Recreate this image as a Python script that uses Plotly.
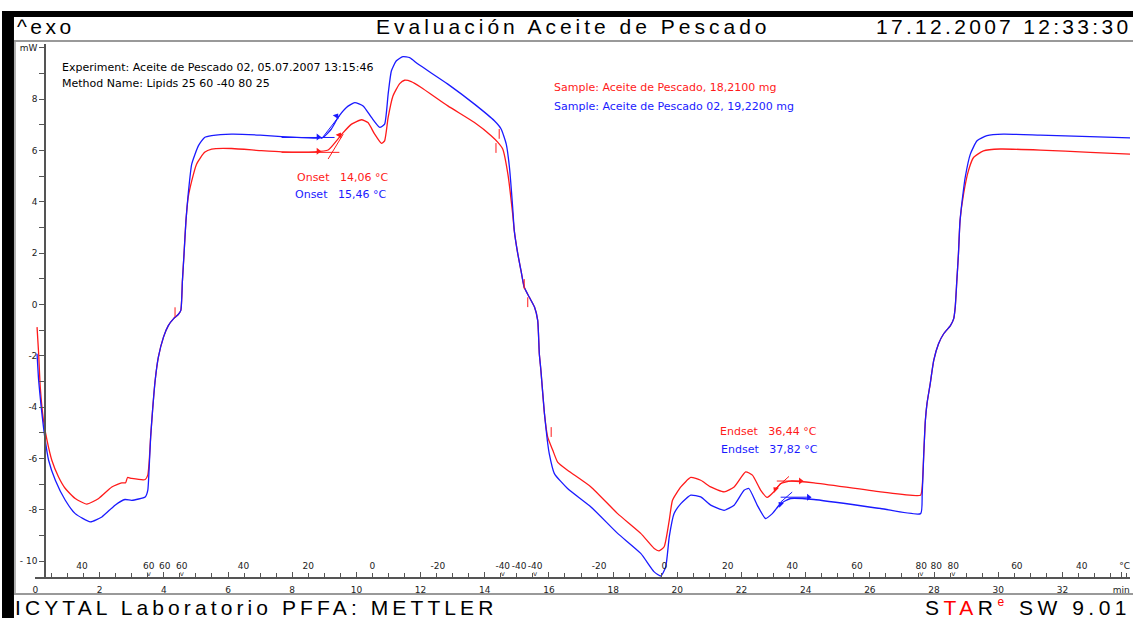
import plotly.graph_objects as go

W, H = 1133, 618

# ---------------- data (time in min, heat flow in mW) ----------------
red_t = [0.05, 0.1, 0.15, 0.25, 0.36, 0.51, 0.72, 0.93, 1.24, 1.6, 1.97, 2.38, 2.69, 2.81, 2.87, 3.0, 3.42, 3.5,
         3.54, 3.59, 3.65, 3.73, 3.83, 3.99, 4.14, 4.3, 4.45, 4.53, 4.58, 4.63, 4.69, 4.76, 4.87, 5.02, 5.27, 5.49,
         6.11, 7.0, 7.67, 8.7, 9.12, 9.38, 9.59, 9.85, 10.16, 10.36, 10.57, 10.78, 10.88, 10.99, 11.14, 11.35, 11.5,
         11.71, 12.02, 12.85, 13.68, 14.2, 14.41, 14.56, 14.72, 14.87, 14.92, 15.03, 15.13, 15.23, 15.39, 15.55,
         15.65, 15.7, 15.75, 15.86, 15.96, 16.12, 16.27, 16.58, 17.31, 18.14, 18.86, 19.28, 19.43, 19.59, 19.75,
         19.85, 20.11, 20.42, 20.73, 21.04, 21.46, 21.77, 22.13, 22.34, 22.6, 22.8, 23.01, 23.22, 23.53, 24.26,
         26.33, 27.58, 27.63, 27.68, 27.73, 27.78, 27.88, 27.99, 28.14, 28.3, 28.51, 28.61, 28.66, 28.71, 28.76,
         28.81, 28.92, 29.07, 29.23, 29.54, 30.06, 31.31, 32.86, 34.15]
red_v = [-0.88, -1.92, -3.22, -4.51, -5.29, -6.07, -6.72, -7.17, -7.56, -7.78, -7.56, -7.11, -6.95, -6.95, -6.74,
         -6.78, -6.82, -6.65, -6.2, -5.16, -4.12, -2.96, -2.05, -1.27, -0.82, -0.56, -0.39, -0.23, 0.93, 1.97, 3.27,
         4.18, 4.82, 5.47, 5.93, 6.06, 6.08, 6.0, 5.95, 5.95, 6.02, 6.38, 6.7, 7.03, 7.2, 7.09, 6.64, 6.28, 6.38,
         7.29, 8.13, 8.61, 8.74, 8.69, 8.46, 7.74, 7.09, 6.58, 6.32, 6.06, 5.09, 3.53, 2.88, 1.97, 1.32, 0.67, 0.28,
         -0.1, -0.62, -1.91, -2.57, -4.25, -5.16, -5.68, -6.14, -6.46, -7.11, -8.15, -8.92, -9.51, -9.6, -9.44,
         -8.4, -7.63, -7.11, -6.74, -6.85, -7.11, -7.3, -7.11, -6.52, -6.65, -7.24, -7.52, -7.3, -6.98, -6.88,
         -6.95, -7.3, -7.43, -7.11, -5.81, -4.51, -3.86, -3.09, -2.18, -1.53, -1.14, -0.82, -0.56, -0.1, 0.93,
         1.97, 3.27, 4.31, 5.21, 5.73, 5.99, 6.06, 6.02, 5.93, 5.86]

blue_t = [0.05, 0.1, 0.18, 0.29, 0.41, 0.62, 0.93, 1.24, 1.71, 2.07, 2.48, 2.79, 3.0, 3.42, 3.5, 3.54, 3.59, 3.65,
          3.73, 3.83, 3.99, 4.14, 4.3, 4.45, 4.53, 4.58, 4.63, 4.69, 4.76, 4.87, 5.08, 5.27, 5.49, 6.11, 7.0, 7.67,
          8.7, 8.96, 9.22, 9.43, 9.69, 9.95, 10.21, 10.47, 10.73, 10.88, 10.99, 11.09, 11.24, 11.45, 11.66, 11.92,
          12.85, 13.68, 14.3, 14.51, 14.67, 14.77, 14.87, 14.92, 15.03, 15.13, 15.23, 15.39, 15.55, 15.65, 15.7,
          15.75, 15.86, 15.95, 16.01, 16.17, 16.58, 17.31, 18.14, 18.86, 19.28, 19.49, 19.64, 19.75, 19.9, 20.11,
          20.42, 20.73, 21.04, 21.46, 21.77, 22.08, 22.23, 22.49, 22.75, 22.96, 23.22, 23.53, 24.26, 26.33, 27.58,
          27.63, 27.68, 27.73, 27.78, 27.88, 27.99, 28.14, 28.3, 28.51, 28.61, 28.66, 28.71, 28.76, 28.81, 28.92,
          28.97, 29.13, 29.34, 29.65, 30.16, 31.31, 32.86, 34.15]
blue_v = [-1.92, -2.96, -4.0, -5.16, -6.07, -6.85, -7.63, -8.15, -8.47, -8.28, -7.82, -7.6, -7.63, -7.5, -7.24,
          -6.46, -5.16, -4.12, -2.96, -2.05, -1.27, -0.82, -0.56, -0.39, -0.23, 0.93, 1.97, 3.27, 4.3, 5.47, 6.19,
          6.51, 6.58, 6.64, 6.6, 6.54, 6.49, 6.51, 6.84, 7.29, 7.68, 7.87, 7.74, 7.29, 6.9, 7.03, 8.2, 9.1, 9.49,
          9.66, 9.62, 9.37, 8.59, 7.81, 7.16, 6.84, 6.25, 5.34, 3.79, 2.88, 1.97, 1.32, 0.67, 0.28, -0.1, -0.62,
          -1.91, -2.57, -4.25, -5.3, -5.81, -6.59, -7.17, -7.89, -8.92, -9.7, -10.42, -10.58, -10.22, -9.05, -8.15,
          -7.76, -7.43, -7.5, -7.82, -8.02, -7.82, -7.24, -7.17, -7.82, -8.34, -8.15, -7.76, -7.56, -7.6, -7.95,
          -8.15, -7.4, -5.81, -4.51, -3.86, -3.09, -2.18, -1.53, -1.14, -0.82, -0.56, -0.1, 0.93, 1.97, 3.27, 4.5,
          4.95, 5.86, 6.38, 6.58, 6.64, 6.6, 6.54, 6.49]

# onset / endset construction lines
onset_red_base_t = [7.67, 9.47];  onset_red_base_v = [5.93, 5.93]
onset_red_tan_t = [9.12, 9.59];   onset_red_tan_v = [5.67, 6.64]
onset_blue_base_t = [7.67, 9.32]; onset_blue_base_v = [6.51, 6.51]
onset_blue_tan_t = [8.91, 9.47];  onset_blue_tan_v = [6.45, 7.35]
endset_red_base_t = [23.1, 23.84];  endset_red_base_v = [-6.88, -6.88]
endset_red_tan_t = [23.06, 23.48];  endset_red_tan_v = [-7.17, -6.7]
endset_blue_base_t = [23.22, 24.09]; endset_blue_base_v = [-7.51, -7.51]
endset_blue_tan_t = [23.22, 23.58];  endset_blue_tan_v = [-7.7, -7.31]

arrow_red_t = [8.81, 9.47, 23.06, 23.84]
arrow_red_v = [5.97, 6.6, -7.2, -6.88]
arrow_red_ang = [0, -60, 225, 0]
arrow_blue_t = [8.81, 9.38, 23.22, 24.09]
arrow_blue_v = [6.53, 7.35, -7.78, -7.51]
arrow_blue_ang = [0, -55, 225, 0]

limit_red_t = [4.35, 14.35, 14.45, 15.23, 15.34, 16.07]
limit_red_v = [-0.3, 6.1, 6.65, 0.8, 0.09, -4.97]

# axes
time_ticks = [0, 2, 4, 6, 8, 10, 12, 14, 16, 18, 20, 22, 24, 26, 28, 30, 32]
time_labels = ["0", "2", "4", "6", "8", "10", "12", "14", "16", "18", "20", "22", "24", "26", "28", "30", "32"]
temp_t = [1.45, 3.53, 4.03, 4.56, 6.48, 8.5, 10.5, 12.54, 14.56, 15.07, 15.57, 17.56, 19.6, 21.57, 23.58,
          25.6, 27.6, 28.07, 28.6, 30.58, 32.6]
temp_labels = ["40", "60", "60", "60", "40", "20", "0", "-20", "-40", "-40", "-40", "-20", "0", "20", "40",
               "60", "80", "80", "80", "60", "40"]
hold_t = [3.53, 4.56, 14.56, 15.57, 27.6, 28.6]
mw_ticks = [-10, -8, -6, -4, -2, 0, 2, 4, 6, 8, 10]
mw_labels = ["- 10", "-8", "-6", "-4", "-2", "0", "2", "4", "6", "8", "mW"]

# ---------------- layout helpers ----------------
def px(x):
    return x / W

def py(y):
    return 1 - y / H

# pixel calibration of the plot
T0_PX, PX_PER_MIN = 33.5, 32.15
V0_PX, PX_PER_MW = 304.0, 25.7
X_LEFT, X_RIGHT = 33, 1130
Y_TOP, Y_BOT = 43, 577
xr = [(X_LEFT - T0_PX) / PX_PER_MIN, (X_RIGHT - T0_PX) / PX_PER_MIN]
yr = [(V0_PX - Y_BOT) / PX_PER_MW, (V0_PX - Y_TOP) / PX_PER_MW]

RED = "#ff1a1a"
BLUE = "#1a1aff"
AX = "#555555"
TICKFONT = dict(family="DejaVu Sans", size=9, color="#222222")

fig = go.Figure()

fig.add_trace(go.Scatter(x=red_t, y=red_v, mode="lines",
                         line=dict(color=RED, width=1.3, shape="spline", smoothing=0.5), hoverinfo="skip"))
fig.add_trace(go.Scatter(x=blue_t, y=blue_v, mode="lines",
                         line=dict(color=BLUE, width=1.3, shape="spline", smoothing=0.5), hoverinfo="skip"))

for tt, vv, c in [(onset_red_base_t, onset_red_base_v, RED), (onset_red_tan_t, onset_red_tan_v, RED),
                  (onset_blue_base_t, onset_blue_base_v, BLUE), (onset_blue_tan_t, onset_blue_tan_v, BLUE),
                  (endset_red_base_t, endset_red_base_v, RED), (endset_red_tan_t, endset_red_tan_v, RED),
                  (endset_blue_base_t, endset_blue_base_v, BLUE), (endset_blue_tan_t, endset_blue_tan_v, BLUE)]:
    fig.add_trace(go.Scatter(x=tt, y=vv, mode="lines", line=dict(color=c, width=1), hoverinfo="skip"))

fig.add_trace(go.Scatter(x=arrow_red_t, y=arrow_red_v, mode="markers",
                         marker=dict(symbol="triangle-right", size=6, color=RED, angle=arrow_red_ang)))
fig.add_trace(go.Scatter(x=arrow_blue_t, y=arrow_blue_v, mode="markers",
                         marker=dict(symbol="triangle-right", size=6, color=BLUE, angle=arrow_blue_ang)))
fig.add_trace(go.Scatter(x=limit_red_t, y=limit_red_v, mode="markers",
                         marker=dict(symbol="line-ns-open", size=7, color=RED, line=dict(width=1, color=RED))))

# hold markers on temperature axis
fig.add_trace(go.Scatter(x=hold_t, y=[yr[0] + 0.1] * len(hold_t), mode="text", text=["v"] * len(hold_t),
                         textfont=dict(family="DejaVu Sans", size=7, color="#333333"), xaxis="x2", yaxis="y",
                         hoverinfo="skip"))

fig.update_layout(
    width=W, height=H, autosize=False, showlegend=False,
    margin=dict(l=0, r=0, t=0, b=0, pad=0),
    paper_bgcolor="white", plot_bgcolor="rgba(0,0,0,0)",
    xaxis=dict(domain=[px(X_LEFT), px(X_RIGHT)], range=xr, anchor="y", showgrid=False, zeroline=False,
               showline=True, linecolor=AX, linewidth=1.5, ticks="inside", ticklen=5, tickcolor=AX,
               tickmode="array", tickvals=time_ticks + [33.83], ticktext=time_labels + ["min"],
               tickfont=TICKFONT, ticklabelstandoff=3, tickangle=0,
               minor=dict(tick0=0, dtick=0.5, ticks="inside", ticklen=4, tickcolor=AX)),
    xaxis2=dict(overlaying="x", matches="x", range=xr, anchor="free", position=py(Y_BOT), side="top",
                showgrid=False, zeroline=False, showline=False, ticks="", tickangle=0,
                tickmode="array", tickvals=temp_t + [33.94], ticktext=temp_labels + ["°C"],
                tickfont=TICKFONT, ticklabelstandoff=6),
    yaxis=dict(domain=[py(Y_BOT), py(Y_TOP)], range=yr, anchor="free", position=px(43), showgrid=False,
               zeroline=False, showline=True, linecolor=AX, linewidth=1.5, ticks="outside", ticklen=5,
               tickcolor=AX, tickmode="array", tickvals=mw_ticks, ticktext=mw_labels, tickfont=TICKFONT,
               minor=dict(tick0=1, dtick=2, ticks="outside", ticklen=5, tickcolor=AX)),
)

# frame: black bars and grey rules
shapes = [
    dict(type="rect", xref="paper", yref="paper", x0=px(0), x1=px(12), y0=py(618), y1=py(10),
         fillcolor="black", line=dict(width=0)),
    dict(type="rect", xref="paper", yref="paper", x0=px(0), x1=px(1133), y0=py(16), y1=py(10),
         fillcolor="black", line=dict(width=0)),
    dict(type="line", xref="paper", yref="paper", x0=px(12), x1=px(1133), y0=py(40), y1=py(40),
         line=dict(color="#999999", width=2)),
    dict(type="line", xref="paper", yref="paper", x0=px(13), x1=px(13), y0=py(40), y1=py(594),
         line=dict(color="#999999", width=1.5)),
    dict(type="line", xref="paper", yref="paper", x0=px(12), x1=px(1133), y0=py(594), y1=py(594),
         line=dict(color="#999999", width=2)),
]
fig.update_layout(shapes=shapes)

BIG = dict(family="Liberation Sans, Arial", size=21, color="black")
SMALL = "DejaVu Sans"

def sp(text, ls):
    return '<span style="letter-spacing:%.1fpx">%s</span>' % (ls, text)

def ann(text, x, y, xanchor="left", font=None):
    return dict(text=text, x=px(x), y=py(y), xref="paper", yref="paper", xanchor=xanchor, yanchor="middle",
                showarrow=False, font=font, align="left")

annotations = [
    ann(sp("^exo", 3.5), 13, 26, "left", BIG),
    ann(sp("Evaluación Aceite de Pescado", 4.0), 573, 26, "center", BIG),
    ann(sp("17.12.2007 12:33:30", 3.3), 1133, 26, "right", BIG),
    ann(sp("ICYTAL Laboratorio PFFA: METTLER", 4.1), 11, 607, "left", BIG),
    ann(sp('S<span style="fill:#ff0000">TA</span>R<sup><span style="fill:#ff0000;font-size:12px">e</span></sup>'
           ' SW 9.01', 4.5), 1133, 607, "right", BIG),
    ann("Experiment: Aceite de Pescado 02, 05.07.2007 13:15:46", 58, 67, "left",
        dict(family=SMALL, size=11, color="black")),
    ann("Method Name: Lipids 25 60 -40 80 25", 58, 83, "left", dict(family=SMALL, size=11, color="black")),
    ann("Sample: Aceite de Pescado, 18,2100 mg", 551, 87, "left", dict(family=SMALL, size=11, color=RED)),
    ann("Sample: Aceite de Pescado 02, 19,2200 mg", 551, 106, "left", dict(family=SMALL, size=11, color=BLUE)),
    ann("Onset&nbsp;&nbsp;&nbsp;14,06 °C", 294, 177, "left", dict(family=SMALL, size=11, color=RED)),
    ann("Onset&nbsp;&nbsp;&nbsp;15,46 °C", 292, 194, "left", dict(family=SMALL, size=11, color=BLUE)),
    ann("Endset&nbsp;&nbsp;&nbsp;36,44 °C", 717, 431, "left", dict(family=SMALL, size=11, color=RED)),
    ann("Endset&nbsp;&nbsp;&nbsp;37,82 °C", 718, 449, "left", dict(family=SMALL, size=11, color=BLUE)),
]
fig.update_layout(annotations=annotations)

fig.write_html("out.html")
